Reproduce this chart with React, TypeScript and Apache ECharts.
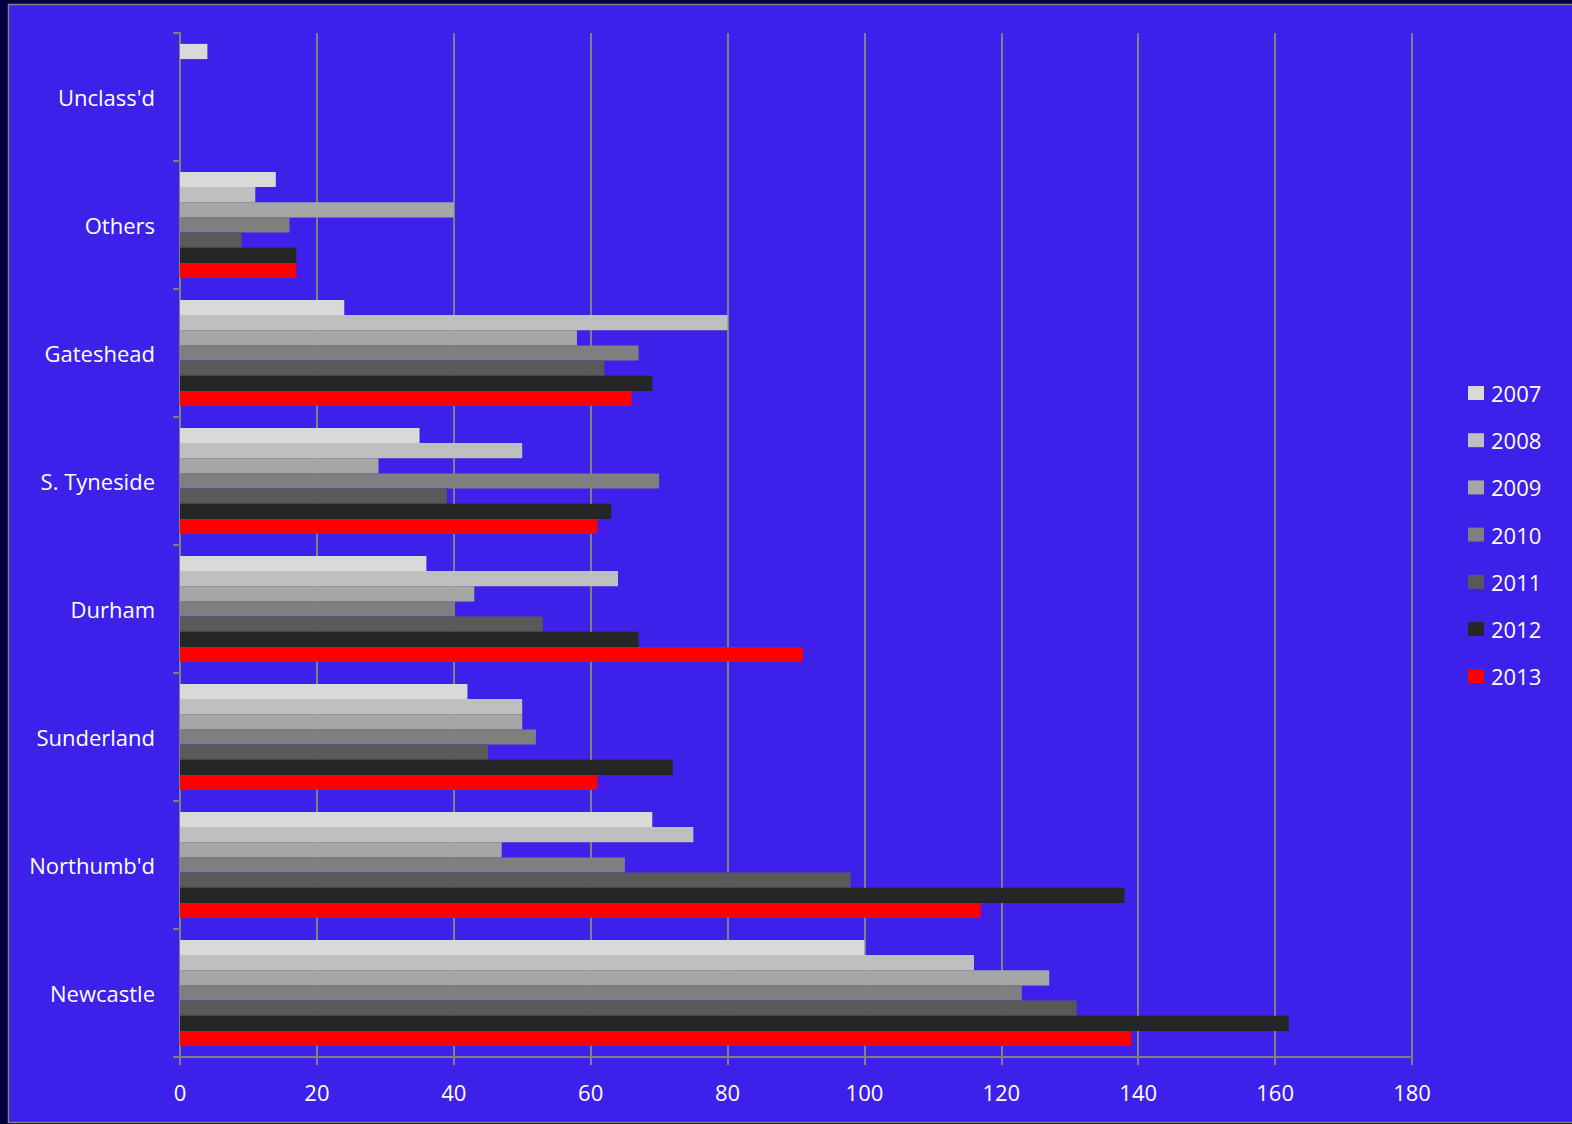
import React, { useEffect, useRef } from "react";
import * as echarts from "echarts";

const categories = ["Unclass'd", "Others", "Gateshead", "S. Tyneside", "Durham", "Sunderland", "Northumb'd", "Newcastle"];
const years = ["2007", "2008", "2009", "2010", "2011", "2012", "2013"];
const colors = ["#d9d9d9", "#bfbfbf", "#a6a6a6", "#7f7f7f", "#595959", "#262626", "#ff0000"];

const v2007 = [4, 14, 24, 35, 36, 42, 69, 100];
const v2008 = [0, 11, 80, 50, 64, 50, 75, 116];
const v2009 = [0, 40, 58, 29, 43, 50, 47, 127];
const v2010 = [0, 16, 67, 70, 40, 52, 65, 123];
const v2011 = [0, 9, 62, 39, 53, 45, 98, 131];
const v2012 = [0, 17, 69, 63, 67, 72, 138, 162];
const v2013 = [0, 17, 66, 61, 91, 61, 117, 139];
const seriesValues = [v2007, v2008, v2009, v2010, v2011, v2012, v2013];

const xTicks = { min: 0, max: 180, interval: 20 };

const FONT = "Open Sans";
const FS = 22;

export default function App() {
  const ref = useRef<HTMLDivElement>(null);
  useEffect(() => {
    document.body.style.margin = "0";
    const chart = echarts.init(ref.current!, null, { renderer: "svg" });
    chart.setOption({
      animation: false,
      backgroundColor: "#00003f",
      graphic: [
        {
          type: "rect",
          z: -10,
          shape: { x: 8.5, y: 4.5, width: 1570, height: 1118 },
          style: { fill: "#3d20ea", stroke: "#808080", lineWidth: 1.5 },
        },
      ],
      grid: { left: 180, right: 160, top: 33, bottom: 67, containLabel: false },
      legend: {
        orient: "vertical",
        left: 1463,
        top: 377,
        itemWidth: 16,
        itemHeight: 14,
        itemGap: 25.2,
        icon: "rect",
        data: years,
        textStyle: { color: "#ffffff", fontSize: FS, fontFamily: FONT, lineHeight: 21, padding: [0, 0, 0, 2] },
      },
      xAxis: {
        type: "value",
        min: xTicks.min,
        max: xTicks.max,
        interval: xTicks.interval,
        axisLine: { show: true, lineStyle: { color: "#808080", width: 2 } },
        axisTick: { show: true, length: 8, lineStyle: { color: "#808080", width: 2 } },
        splitLine: { show: true, lineStyle: { color: "#808080", width: 2 } },
        axisLabel: { color: "#ffffff", fontSize: FS, fontFamily: FONT, margin: 24 },
      },
      yAxis: {
        type: "category",
        inverse: true,
        data: categories,
        axisLine: { show: true, lineStyle: { color: "#808080", width: 2 } },
        axisTick: { show: true, length: 7, lineStyle: { color: "#808080", width: 2 } },
        axisLabel: { color: "#ffffff", fontSize: FS, fontFamily: FONT, margin: 25 },
        splitLine: { show: false },
      },
      series: years.map((y, i) => ({
        name: y,
        type: "bar",
        data: seriesValues[i],
        barGap: "0%",
        barCategoryGap: "17%",
        itemStyle: { color: colors[i] },
      })),
    });
    return () => chart.dispose();
  }, []);
  return <div ref={ref} style={{ width: 1572, height: 1124 }} />;
}
